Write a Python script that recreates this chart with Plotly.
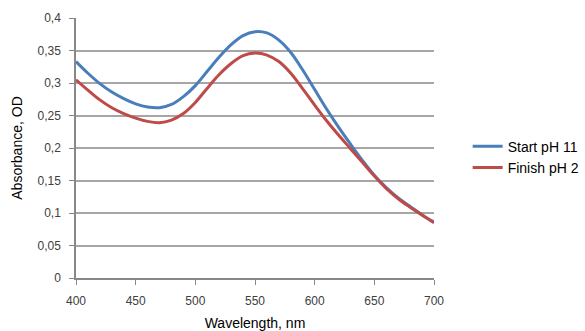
import plotly.graph_objects as go

wavelength = list(range(400, 701, 10))
start_ph11 = [0.333, 0.315, 0.299, 0.286, 0.276, 0.268, 0.263, 0.262, 0.267, 0.279,
              0.296, 0.318, 0.340, 0.359, 0.373, 0.379, 0.377, 0.366, 0.347, 0.320,
              0.290, 0.260, 0.232, 0.206, 0.181, 0.158, 0.139, 0.123, 0.110, 0.097, 0.086]
finish_ph2 = [0.305, 0.289, 0.274, 0.262, 0.253, 0.246, 0.241, 0.239, 0.243, 0.253,
              0.270, 0.292, 0.313, 0.330, 0.342, 0.346, 0.343, 0.333, 0.315, 0.291,
              0.266, 0.242, 0.220, 0.199, 0.178, 0.157, 0.138, 0.122, 0.109, 0.097, 0.085]
y_ticks = [0, 0.05, 0.1, 0.15, 0.2, 0.25, 0.3, 0.35, 0.4]
y_labels = ["0", "0,05", "0,1", "0,15", "0,2", "0,25", "0,3", "0,35", "0,4"]
x_ticks = [400, 450, 500, 550, 600, 650, 700]

fig = go.Figure()
fig.add_trace(go.Scatter(x=wavelength, y=start_ph11, mode="lines", name="Start pH 11",
                         line=dict(color="#4a7ebb", width=3, shape="spline", smoothing=1)))
fig.add_trace(go.Scatter(x=wavelength, y=finish_ph2, mode="lines", name="Finish pH 2",
                         line=dict(color="#be4b48", width=3, shape="spline", smoothing=1)))

tickfont = dict(family="Liberation Sans", size=12, color="#404040")
titlefont = dict(family="Liberation Sans", size=14, color="black")
fig.update_layout(
    width=585, height=331,
    margin=dict(l=76, r=151, t=18, b=53, autoexpand=False),
    paper_bgcolor="white", plot_bgcolor="white",
    font=dict(family="Liberation Sans", size=13, color="black"),
    legend=dict(x=1.094, y=0.465, xanchor="left", yanchor="middle",
                font=dict(family="Liberation Sans", size=14, color="black"),
                itemwidth=30, tracegroupgap=0, bgcolor="rgba(0,0,0,0)"),
    xaxis=dict(range=[400, 700], tickvals=x_ticks, ticks="outside", ticklen=5,
               tickcolor="#888", showline=True, linecolor="#888", linewidth=1.5,
               showgrid=False, zeroline=False, tickfont=tickfont, ticklabelstandoff=6,
               automargin=False,
               title=dict(text="Wavelength, nm", standoff=12, font=titlefont)),
    yaxis=dict(range=[0, 0.4], tickvals=y_ticks, ticktext=y_labels, ticks="outside",
               ticklen=5, tickcolor="#888", showline=True, linecolor="#888",
               linewidth=1.5, showgrid=True, gridcolor="#a6a6a6", gridwidth=1.5,
               zeroline=False, tickfont=tickfont, ticklabelstandoff=6,
               automargin=False,
               title=dict(text="Absorbance, OD", standoff=12, font=titlefont)),
)
fig.write_html("out.html")
